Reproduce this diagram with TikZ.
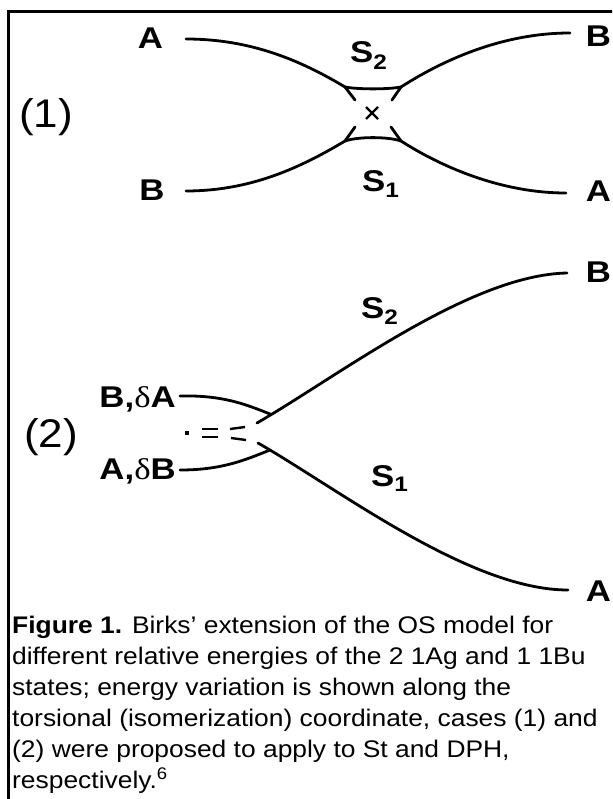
\documentclass[tikz,border=0pt]{standalone}
\usepackage{fontspec}
\usetikzlibrary{calc}
\setmainfont{Liberation Sans}[FakeStretch=1.1]
\newfontfamily\labfont{Liberation Sans}[FakeStretch=1.16]
\newfontfamily\greekfont{Liberation Serif}[FakeStretch=1.16]
\begin{document}
\begin{tikzpicture}[x=1pt,y=-1pt,
  curve/.style={line width=2.8pt, line cap=round},
  lab/.style={font=\labfont\fontsize{30}{30}\selectfont\bfseries, inner sep=0pt, anchor=base},
  case/.style={font=\fontsize{40}{40}\selectfont, inner sep=0pt},
  caption/.style={font=\fontsize{24}{31}\selectfont, inner sep=0pt, align=left, anchor=north west}]
\useasboundingbox (0,0) rectangle (612,799);
\clip (0,0) rectangle (612,799);
% frame
\draw[line width=3pt] (8.5,830) -- (8.5,11.5) -- (640,11.5);

% ---------- case (1) ----------
\node[case] (c1) at (46,117) {(1)};
\node[lab] (lA1) at (150.5,49) {A};
\node[lab] (lB1) at (152,201) {B};
\node[lab] (rB1) at (598.5,47) {B};
\node[lab] (rA1) at (598.5,202) {A};
\node[lab, anchor=base west] (s2a) at (350,63) {S\textsubscript{2}};
\node[lab, anchor=base west] (s1a) at (362,192) {S\textsubscript{1}};

\coordinate (u0) at (186,39);
\coordinate (uL) at (345,87);
\coordinate (uR) at (401,87);
\coordinate (u1) at (570,33);
\coordinate (b0) at (186,191);
\coordinate (bL) at (345,141);
\coordinate (bR) at (401,141);
\coordinate (b1) at (566,193);

\draw[curve] (u0) .. controls (250,39) and (300,60) .. (uL);
\draw[curve] (uL) -- (355,100);
\draw[curve] (uL) .. controls (358,89.5) and (388,89.5) .. (uR);
\draw[curve] (uR) .. controls (440,62) and (500,33) .. (u1);
\draw[curve] (uR) -- (392,100);

\draw[curve] (b0) .. controls (250,191) and (300,168) .. (bL);
\draw[curve] (bL) -- (355,127);
\draw[curve] (bL) .. controls (358,136.5) and (388,136.5) .. (bR);
\draw[curve] (bR) .. controls (440,166) and (500,193) .. (b1);
\draw[curve] (bR) -- (391,127);

\coordinate (x0) at (372,113);
\draw[line width=2.4pt] ($(x0)+(-6,-6)$) -- ($(x0)+(6,6)$) ($(x0)+(-6,6)$) -- ($(x0)+(6,-6)$);

% ---------- case (2) ----------
\node[case] (c2) at (51,437) {(2)};
\node[lab, anchor=base east] (lBA) at (176,407) {B,{\greekfont\mdseries δ}A};
\node[lab, anchor=base east] (lAB) at (176,479) {A,{\greekfont\mdseries δ}B};
\node[lab] (rB2) at (598.5,282) {B};
\node[lab] (rA2) at (598.5,601) {A};
\node[lab, anchor=base west] (s2b) at (361,318) {S\textsubscript{2}};
\node[lab, anchor=base west] (s1b) at (371,486) {S\textsubscript{1}};

\coordinate (v0) at (180,396);
\coordinate (vJ) at (270,414);
\coordinate (w0) at (180,470);
\coordinate (wJ) at (270,450);

\draw[curve] (v0) .. controls (222,395) and (245,404) .. (vJ);
\draw[curve] (257,423) .. controls (340,375) and (470,275) .. (567,273);
\draw[curve] (w0) .. controls (222,470) and (245,460) .. (wJ);
\draw[curve] (258,443) .. controls (340,490) and (470,590) .. (568,590);

% dots and dashes
\fill (185,431) rectangle (189,435);
\draw[line width=2.4pt] (202,429) -- (218,429) (202,437) -- (218,437);
\draw[line width=2.4pt] (230,429) -- (245,427) (231,438) -- (246,440);

% ---------- caption ----------
\node[caption] (cap) at (12,615.5) {\textbf{Figure 1.} Birks’ extension of the OS model for\\
different relative energies of the 2 1Ag and 1 1Bu\\
states; energy variation is shown along the\\
torsional (isomerization) coordinate, cases (1) and\\
(2) were proposed to apply to St and DPH,\\
respectively.\textsuperscript{6}};
\end{tikzpicture}
\end{document}
